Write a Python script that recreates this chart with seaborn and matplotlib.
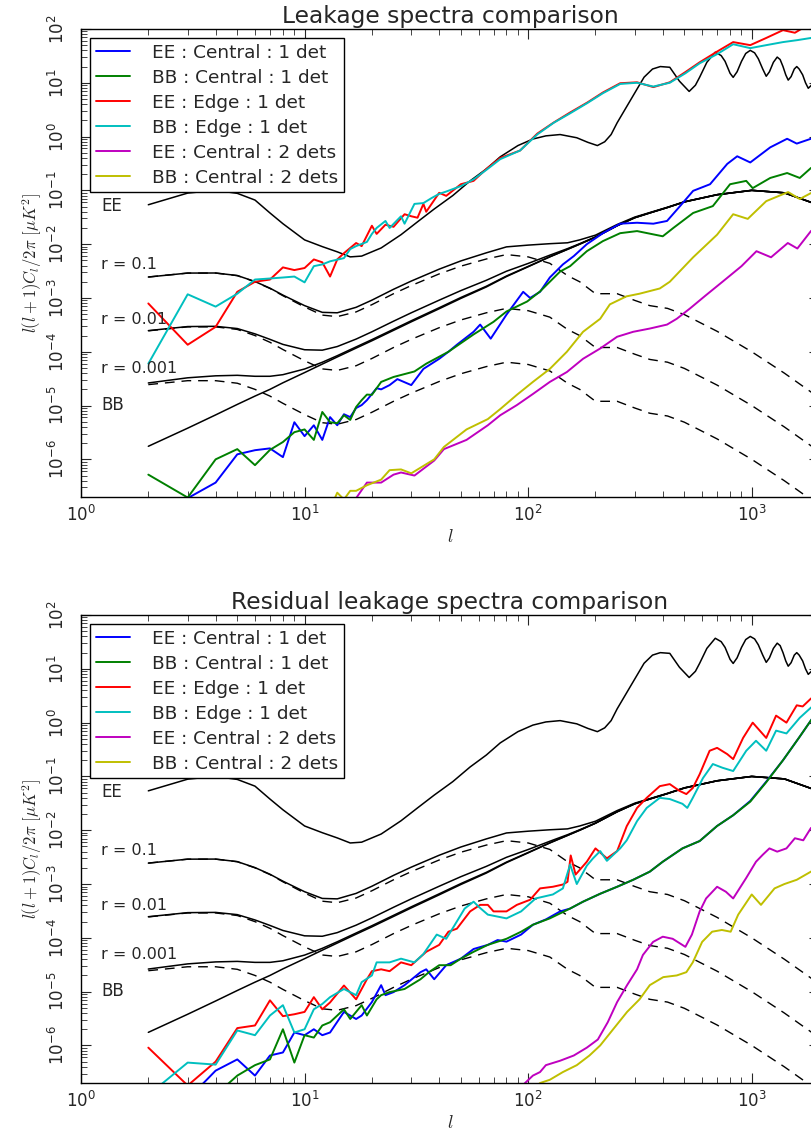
import matplotlib
matplotlib.use("Agg")
import matplotlib.pyplot as plt
import seaborn as sns

# ---------------- theory spectra (same in both panels) ----------------
ee_l = [2, 3, 4, 5, 6, 7, 8, 10, 12, 14, 16, 18, 22, 27, 32, 38, 46, 55, 65, 75,
        90, 105, 120, 139, 165, 185, 204, 220, 235, 250, 280, 300, 330, 360, 390, 430, 475, 525, 560, 585,
        630, 687, 730, 760, 800, 826, 860, 900, 940, 985, 1030, 1070, 1120, 1161, 1200, 1250, 1300, 1340, 1380, 1420,
        1456, 1500, 1550, 1590, 1630, 1690, 1740, 1790, 1850, 2000]
ee_cl = [0.054, 0.089, 0.10, 0.088, 0.066, 0.038, 0.024, 0.012, 0.009, 0.0072, 0.0058, 0.006, 0.0085, 0.015, 0.026, 0.045, 0.08, 0.15, 0.25, 0.42,
         0.68, 0.9, 1.03, 1.09, 0.95, 0.78, 0.68, 0.8, 1.09, 1.8, 4.0, 6.5, 12.7, 18, 20, 19.4, 10.7, 6.9, 9, 12.7,
         24, 37, 32, 25, 15, 12.6, 16, 25, 35, 40, 36, 28, 18, 13.2, 16, 24, 30, 27, 20, 14,
         11.2, 13, 18, 20, 18, 14, 10, 7.9, 9, 12]

bb_l = [2, 3, 4, 5, 6, 7, 8, 10, 12, 14, 17, 20, 25, 30, 40, 50, 65, 80, 100, 125,
        150, 170, 200, 250, 300, 350, 420, 500, 700, 1000, 1400, 2000]
lens_bb = [1.75e-6, 3.8e-6, 6.7e-6, 1.05e-5, 1.5e-5, 2.0e-5, 2.65e-5, 4.1e-5, 5.9e-5, 8.0e-5,
           1.17e-4, 1.6e-4, 2.5e-4, 3.6e-4, 6.3e-4, 9.8e-4, 1.6e-3, 2.5e-3, 3.8e-3, 5.8e-3,
           8.0e-3, 1.0e-2, 1.35e-2, 2.2e-2, 3.1e-2, 3.8e-2, 4.8e-2, 6.1e-2, 8.3e-2, 0.1, 0.09, 0.053]
tens_r01 = [2.45e-3, 2.9e-3, 2.9e-3, 2.6e-3, 2.0e-3, 1.5e-3, 1.1e-3, 6.8e-4, 4.8e-4, 4.5e-4,
            5.5e-4, 7.5e-4, 1.2e-3, 1.7e-3, 2.8e-3, 3.9e-3, 5.3e-3, 6.4e-3, 5.8e-3, 4.4e-3,
            2.6e-3, 2.0e-3, 1.2e-3, 1.2e-3, 9.0e-4, 7.2e-4, 6.4e-4, 4.9e-4, 2.4e-4, 1.0e-4, 4.0e-5, 1.4e-5]
tens_r001 = [2.45e-4, 2.9e-4, 2.9e-4, 2.6e-4, 2.0e-4, 1.5e-4, 1.1e-4, 6.8e-5, 4.8e-5, 4.5e-5,
             5.5e-5, 7.5e-5, 1.2e-4, 1.7e-4, 2.8e-4, 3.9e-4, 5.3e-4, 6.4e-4, 5.8e-4, 4.4e-4,
             2.6e-4, 2.0e-4, 1.2e-4, 1.2e-4, 9.0e-5, 7.2e-5, 6.4e-5, 4.9e-5, 2.4e-5, 1.0e-5, 4.0e-6, 1.4e-6]
tens_r0001 = [2.45e-5, 2.9e-5, 2.9e-5, 2.6e-5, 2.0e-5, 1.5e-5, 1.1e-5, 6.8e-6, 4.8e-6, 4.5e-6,
              5.5e-6, 7.5e-6, 1.2e-5, 1.7e-5, 2.8e-5, 3.9e-5, 5.3e-5, 6.4e-5, 5.8e-5, 4.4e-5,
              2.6e-5, 2.0e-5, 1.2e-5, 1.2e-5, 9.0e-6, 7.2e-6, 6.4e-6, 4.9e-6, 2.4e-6, 1.0e-6, 4.0e-7, 1.4e-7]
tot_r01 = [2.45e-3, 2.9e-3, 2.91e-3, 2.61e-3, 2.02e-3, 1.52e-3, 1.13e-3, 7.2e-4, 5.4e-4, 5.3e-4,
           6.7e-4, 9.1e-4, 1.45e-3, 2.06e-3, 3.43e-3, 4.88e-3, 6.9e-3, 8.9e-3, 9.6e-3, 1.02e-2,
           1.06e-2, 1.2e-2, 1.47e-2, 2.32e-2, 3.19e-2, 3.87e-2, 4.86e-2, 6.15e-2, 8.32e-2, 0.1, 0.09, 0.053]
tot_r001 = [2.47e-4, 2.94e-4, 2.97e-4, 2.7e-4, 2.15e-4, 1.7e-4, 1.37e-4, 1.09e-4, 1.07e-4, 1.25e-4,
            1.72e-4, 2.35e-4, 3.7e-4, 5.3e-4, 9.1e-4, 1.37e-3, 2.13e-3, 3.14e-3, 4.38e-3, 6.24e-3,
            8.26e-3, 1.02e-2, 1.36e-2, 2.21e-2, 3.11e-2, 3.81e-2, 4.81e-2, 6.1e-2, 8.3e-2, 0.1, 0.09, 0.053]
tot_r0001 = [2.63e-5, 3.28e-5, 3.57e-5, 3.65e-5, 3.5e-5, 3.5e-5, 3.75e-5, 4.78e-5, 6.38e-5, 8.45e-5,
             1.23e-4, 1.68e-4, 2.62e-4, 3.77e-4, 6.58e-4, 1.02e-3, 1.65e-3, 2.56e-3, 3.86e-3, 5.84e-3,
             8.03e-3, 1.0e-2, 1.35e-2, 2.2e-2, 3.1e-2, 3.8e-2, 4.8e-2, 6.1e-2, 8.3e-2, 0.1, 0.09, 0.053]

# ---------------- leakage spectra (top panel) ----------------
ee_cen1_top_l = [2, 3, 4, 5, 6, 7, 8, 9, 10, 11, 12, 13, 14, 15, 16, 17, 18, 19, 21, 22,
                 24, 26, 30, 34, 40, 44, 48, 57, 61, 68, 80, 95, 102, 113, 125, 143, 160, 183, 216, 258,
                 307, 363, 418, 478, 547, 651, 777, 861, 985, 1210, 1440, 1590, 1840, 2000]
ee_cen1_top = [1.5e-7, 1.9e-7, 3.7e-7, 1.24e-6, 1.48e-6, 1.6e-6, 1.1e-6, 4.9e-6, 2.7e-6, 4.3e-6,
               2.3e-6, 6.1e-6, 4.3e-6, 6.9e-6, 6.1e-6, 9.0e-6, 1.02e-5, 1.26e-5, 2.1e-5, 2.0e-5,
               2.4e-5, 3.1e-5, 2.4e-5, 4.8e-5, 7.4e-5, 1.0e-4, 1.35e-4, 2.35e-4, 3.2e-4, 1.75e-4,
               4.9e-4, 1.3e-3, 1.0e-3, 1.3e-3, 2.4e-3, 4.2e-3, 6.0e-3, 1.0e-2, 1.6e-2, 2.4e-2,
               2.5e-2, 2.4e-2, 2.7e-2, 5.1e-2, 9.8e-2, 0.13, 0.31, 0.43, 0.33, 0.63, 0.91, 0.74, 0.91, 1.0]
bb_cen1_top_l = [2, 3, 4, 5, 6, 7, 8, 9, 10, 11, 12, 13, 14, 15, 16, 17, 18, 19, 20, 22,
                 25, 31, 35, 44, 57, 70, 80, 99, 113, 139, 154, 183, 216, 258, 307, 400, 446, 547, 670, 800,
                 945, 1010, 1210, 1440, 1640, 1840, 2000]
bb_cen1_top = [5.2e-7, 1.95e-7, 1.0e-6, 1.55e-6, 7.8e-7, 1.5e-6, 2.1e-6, 3.2e-6, 3.6e-6, 2.3e-6,
               7.6e-6, 4.9e-6, 4.7e-6, 6.6e-6, 5.4e-6, 9.4e-6, 1.26e-5, 1.6e-5, 1.58e-5, 2.75e-5,
               3.4e-5, 4.3e-5, 6.0e-5, 1.0e-4, 2.1e-4, 3.6e-4, 5.6e-4, 8.6e-4, 1.32e-3, 3.1e-3,
               3.9e-3, 7.4e-3, 1.14e-2, 1.6e-2, 1.75e-2, 1.4e-2, 2.0e-2, 3.8e-2, 5.1e-2, 0.13,
               0.15, 0.11, 0.17, 0.21, 0.17, 0.26, 0.3]
ee_edge_top_l = [2, 3, 4, 5, 6, 7, 8, 9, 10, 11, 12, 13, 14, 15, 16, 17, 18, 20, 21, 23,
                 25, 28, 30, 32, 34, 35, 40, 43, 50, 57, 65, 75, 92, 110, 130, 154, 184, 216, 258, 307,
                 363, 430, 505, 585, 700, 826, 985, 1161, 1380, 1560, 1700, 1840, 2000]
ee_edge_top = [7.9e-4, 1.35e-4, 2.9e-4, 1.3e-3, 2.0e-3, 2.2e-3, 3.7e-3, 3.3e-3, 3.6e-3, 5.2e-3,
               4.6e-3, 2.5e-3, 5.2e-3, 6.8e-3, 8.5e-3, 1.05e-2, 9.2e-3, 2.2e-2, 1.55e-2, 2.3e-2,
               2.1e-2, 3.6e-2, 3.3e-2, 3.1e-2, 5.6e-2, 4.0e-2, 9.0e-2, 7.9e-2, 0.13, 0.15,
               0.25, 0.4, 0.55, 1.14, 1.82, 2.8, 4.3, 6.6, 9.8, 10.2,
               8.3, 10.2, 15.8, 24, 38, 57, 50, 68, 95, 85, 105, 110, 115]
bb_edge_top_l = [2, 3, 4, 5, 6, 7, 8, 9, 10, 11, 12, 13, 15, 16, 17, 19, 20, 21, 23, 24,
                 27, 28, 31, 34, 37, 40, 43, 50, 57, 65, 75, 92, 110, 130, 154, 184, 216, 258, 307, 363,
                 430, 505, 585, 700, 826, 985, 1161, 1380, 1600, 1840, 2000]
bb_edge_top = [6.0e-5, 1.17e-3, 6.9e-4, 1.2e-3, 2.2e-3, 2.3e-3, 2.4e-3, 2.5e-3, 1.95e-3, 3.9e-3,
               4.2e-3, 4.8e-3, 5.5e-3, 8.1e-3, 9.2e-3, 1.1e-2, 1.55e-2, 2.0e-2, 2.7e-2, 2.0e-2,
               3.3e-2, 2.4e-2, 5.6e-2, 5.8e-2, 7.2e-2, 8.6e-2, 9.5e-2, 0.12, 0.16, 0.24,
               0.38, 0.55, 1.1, 1.8, 2.7, 4.2, 6.4, 9.5, 10.0, 8.5,
               10, 15, 23, 34, 52, 44, 50, 57, 62, 68, 70]
ee_cen2_top_l = [15, 17, 19, 22, 25, 27, 31, 38, 42, 53, 66, 75, 89, 105, 125, 149, 176, 210, 250, 295,
                 350, 418, 462, 530, 620, 740, 900, 1050, 1220, 1450, 1600, 1840, 2000]
ee_cen2_top = [1.2e-7, 1.9e-7, 3.7e-7, 3.7e-7, 5.2e-7, 5.7e-7, 5.0e-7, 9.5e-7, 1.55e-6, 2.3e-6,
               4.3e-6, 6.6e-6, 1.02e-5, 1.64e-5, 2.75e-5, 4.2e-5, 7.4e-5, 1.15e-4, 1.9e-4, 2.35e-4,
               2.7e-4, 3.2e-4, 4.1e-4, 6.4e-4, 1.1e-3, 2.0e-3, 3.9e-3, 7.4e-3, 5.7e-3, 1.05e-2,
               8.3e-3, 1.75e-2, 2.2e-2]
bb_cen2_top_l = [13, 14, 15, 16, 17, 19, 22, 24, 27, 30, 38, 42, 53, 66, 75, 89, 105, 125, 149, 176,
                 210, 232, 275, 315, 388, 430, 547, 700, 826, 960, 1161, 1455, 1640, 1840, 2000]
bb_cen2_top = [1.2e-7, 2.4e-7, 1.8e-7, 2.6e-7, 2.6e-7, 3.3e-7, 4.2e-7, 6.3e-7, 6.5e-7, 5.5e-7,
               1.0e-6, 1.7e-6, 3.6e-6, 5.6e-6, 8.6e-6, 1.58e-5, 2.75e-5, 4.8e-5, 1.0e-4, 2.35e-4,
               4.1e-4, 7.6e-4, 1.07e-3, 1.2e-3, 1.5e-3, 2.0e-3, 5.7e-3, 1.5e-2, 3.6e-2, 2.95e-2,
               6.3e-2, 9.3e-2, 6.9e-2, 8.9e-2, 0.1]

# ---------------- residual leakage spectra (bottom panel) ----------------
ee_cen1_bot_l = [3, 4, 5, 6, 7, 8, 9, 10, 11, 12, 13, 15, 17, 18, 20, 22, 23, 25, 28, 33,
                 35, 38, 43, 50, 57, 66, 73, 80, 93, 105, 120, 139, 154, 176, 210, 250, 295, 350, 400, 490,
                 585, 700, 826, 985, 1161, 1380, 1640, 1840, 2000]
ee_cen1_bot = [1.0e-7, 3.4e-7, 5.5e-7, 2.75e-7, 6.5e-7, 7.4e-7, 1.74e-6, 1.55e-6, 2.0e-6, 1.55e-6,
               1.74e-6, 4.2e-6, 3.1e-6, 3.6e-6, 6.4e-6, 1.32e-5, 8.6e-6, 9.8e-6, 1.32e-5, 2.3e-5,
               2.6e-5, 1.7e-5, 3.1e-5, 4.1e-5, 6.2e-5, 7.4e-5, 9.1e-5, 8.5e-5, 1.15e-4, 1.75e-4,
               2.2e-4, 3.1e-4, 3.5e-4, 4.7e-4, 6.6e-4, 8.9e-4, 1.2e-3, 1.7e-3, 2.6e-3, 4.6e-3,
               6.3e-3, 1.2e-2, 1.9e-2, 3.5e-2, 8.0e-2, 0.2, 0.55, 1.1, 1.8]
bb_cen1_bot_l = [4, 5, 6, 7, 8, 9, 10, 11, 12, 13, 15, 16, 18, 19, 21, 22, 24, 28, 33, 36,
                 40, 45, 50, 57, 66, 80, 93, 105, 125, 154, 176, 210, 250, 295, 350, 400, 490, 585, 700, 826,
                 985, 1161, 1380, 1640, 1840, 2000]
bb_cen1_bot = [1.2e-7, 2.75e-7, 4.3e-7, 5.5e-7, 2.0e-6, 4.8e-7, 1.55e-6, 1.4e-6, 2.35e-6, 2.7e-6,
               4.7e-6, 3.1e-6, 5.6e-6, 3.6e-6, 7.2e-6, 8.6e-6, 9.8e-6, 1.12e-5, 1.7e-5, 2.3e-5,
               3.1e-5, 3.1e-5, 4.1e-5, 5.5e-5, 7.4e-5, 9.6e-5, 1.3e-4, 1.75e-4, 2.3e-4, 3.5e-4,
               4.7e-4, 6.6e-4, 8.9e-4, 1.2e-3, 1.7e-3, 2.6e-3, 4.6e-3, 6.3e-3, 1.2e-2, 1.9e-2,
               3.4e-2, 7.8e-2, 0.2, 0.55, 1.1, 1.8]
ee_edge_bot_l = [2, 3, 4, 5, 6, 7, 8, 9, 10, 11, 12, 13, 15, 17, 19, 20, 22, 24, 27, 30,
                 35, 40, 44, 48, 55, 61, 66, 70, 80, 89, 102, 113, 129, 143, 150, 155, 163, 183, 200, 225,
                 250, 276, 307, 339, 388, 430, 475, 510, 545, 585, 648, 700, 777, 826, 915, 1010, 1161, 1285, 1430, 1590,
                 1690, 1840, 2000]
ee_edge_bot = [9.1e-7, 1.8e-7, 5e-7, 2.1e-6, 2.35e-6, 6.9e-6, 3.5e-6, 3.8e-6, 4.2e-6, 7.9e-6,
               4.7e-6, 6.3e-6, 1.3e-5, 7.2e-6, 1.7e-5, 2.4e-5, 2.6e-5, 2.4e-5, 3.5e-5, 3.1e-5,
               5.5e-5, 7.4e-5, 1.3e-4, 1.48e-4, 3.1e-4, 4.1e-4, 4.1e-4, 3.1e-4, 3.1e-4, 4.1e-4,
               5.1e-4, 8.3e-4, 8.9e-4, 9.8e-4, 1.1e-3, 3.4e-3, 1.5e-3, 2.6e-3, 4.6e-3, 3.0e-3,
               4.1e-3, 1.19e-2, 2.6e-2, 4.0e-2, 6.6e-2, 7.2e-2, 5.4e-2, 4.7e-2, 6.1e-2, 0.11,
               0.3, 0.34, 0.26, 0.21, 0.52, 1.0, 0.52, 1.35, 1.0, 2.1,
               2.0, 2.8, 3.5]
bb_edge_bot_l = [2, 3, 4, 5, 6, 7, 8, 9, 10, 11, 12, 13, 15, 17, 18, 20, 21, 24, 27, 31,
                 34, 39, 43, 47, 52, 57, 60, 66, 80, 93, 108, 129, 143, 154, 165, 183, 195, 210, 225, 258,
                 276, 307, 339, 388, 430, 490, 515, 545, 605, 670, 740, 826, 945, 1045, 1161, 1285, 1430, 1640, 1840, 2000]
bb_edge_bot = [1.2e-7, 4.8e-7, 4.4e-7, 1.9e-6, 1.55e-6, 3.6e-6, 5.6e-6, 1.74e-6, 2.0e-6, 4.7e-6,
               5.9e-6, 7.9e-6, 1.12e-5, 8.6e-6, 1.5e-5, 2.0e-5, 3.5e-5, 3.5e-5, 4.1e-5, 3.5e-5,
               5.0e-5, 1.15e-4, 9.6e-5, 1.75e-4, 3.5e-4, 4.7e-4, 3.8e-4, 2.7e-4, 2.3e-4, 3.1e-4,
               5.4e-4, 6.4e-4, 8.3e-4, 2.3e-3, 1.0e-3, 2.2e-3, 3.0e-3, 4.1e-3, 2.7e-3, 4.6e-3,
               6.5e-3, 1.48e-2, 2.6e-2, 4.0e-2, 3.8e-2, 3.1e-2, 2.6e-2, 4.0e-2, 9.3e-2, 0.17,
               0.145, 0.126, 0.3, 0.46, 0.3, 0.71, 0.63, 1.23, 1.9, 2.4]
ee_cen2_bot_l = [90, 105, 113, 120, 139, 160, 183, 205, 227, 250, 277, 307, 326, 362, 400, 443, 505, 540, 585, 625,
                 700, 766, 826, 945, 1045, 1120, 1200, 1300, 1430, 1560, 1700, 1840, 2000]
ee_cen2_bot = [1.5e-7, 2.75e-7, 3.2e-7, 4.3e-7, 5.2e-7, 6.5e-7, 9.1e-7, 1.29e-6, 2.7e-6, 6.4e-6,
               1.32e-5, 2.6e-5, 4.8e-5, 8.4e-5, 1.05e-4, 9.6e-5, 6.8e-5, 1.15e-4, 3.1e-4, 5.4e-4,
               8.9e-4, 7.2e-4, 5.4e-4, 1.3e-3, 2.6e-3, 3.5e-3, 4.6e-3, 4.0e-3, 4.6e-3, 7.1e-3,
               6.5e-3, 1.1e-2, 1.3e-2]
bb_cen2_bot_l = [105, 113, 125, 143, 165, 188, 210, 240, 277, 315, 350, 402, 462, 510, 545, 600, 665, 735, 805, 870,
                 1000, 1100, 1265, 1400, 1590, 1840, 2000]
bb_cen2_bot = [1.5e-7, 2.0e-7, 2.3e-7, 3.2e-7, 4.3e-7, 6.5e-7, 1.0e-6, 2.0e-6, 4.2e-6, 7.2e-6,
               1.32e-5, 1.86e-5, 2.0e-5, 2.3e-5, 3.5e-5, 8.4e-5, 1.3e-4, 1.4e-4, 1.3e-4, 2.7e-4,
               6.4e-4, 4.1e-4, 8.3e-4, 1.0e-3, 1.2e-3, 1.7e-3, 2.0e-3]

labels = ["EE : Central : 1 det", "BB : Central : 1 det", "EE : Edge : 1 det",
          "BB : Edge : 1 det", "EE : Central : 2 dets", "BB : Central : 2 dets"]
colors = [(0, 0, 1), (0, 0.5, 0), (1, 0, 0), (0, 0.75, 0.75), (0.75, 0, 0.75), (0.75, 0.75, 0)]
ytick_exp = [-6, -5, -4, -3, -2, -1, 0, 1, 2]

top_series = [(ee_cen1_top_l, ee_cen1_top), (bb_cen1_top_l, bb_cen1_top),
              (ee_edge_top_l, ee_edge_top), (bb_edge_top_l, bb_edge_top),
              (ee_cen2_top_l, ee_cen2_top), (bb_cen2_top_l, bb_cen2_top)]
bot_series = [(ee_cen1_bot_l, ee_cen1_bot), (bb_cen1_bot_l, bb_cen1_bot),
              (ee_edge_bot_l, ee_edge_bot), (bb_edge_bot_l, bb_edge_bot),
              (ee_cen2_bot_l, ee_cen2_bot), (bb_cen2_bot_l, bb_cen2_bot)]

sns.set_style("ticks")
plt.rcParams['font.family'] = ['DejaVu Sans']
plt.rcParams['mathtext.fontset'] = 'cm'
plt.rcParams['axes.edgecolor'] = 'black'
plt.rcParams['axes.linewidth'] = 1.0


def panel(ax, series, title):
    ax.set_xscale('log')
    ax.set_yscale('log')
    sns.lineplot(x=ee_l, y=ee_cl, ax=ax, color='k', lw=1.1)
    for tot, ten in [(tot_r01, tens_r01), (tot_r001, tens_r001), (tot_r0001, tens_r0001)]:
        sns.lineplot(x=bb_l, y=tot, ax=ax, color='k', lw=1.1)
        sns.lineplot(x=bb_l, y=ten, ax=ax, color='k', lw=1.0, linestyle=(0, (7, 5)))
    sns.lineplot(x=bb_l, y=lens_bb, ax=ax, color='k', lw=1.1)
    for (l, c), lab, col in zip(series, labels, colors):
        sns.lineplot(x=l, y=c, ax=ax, color=col, lw=1.4, label=lab)

    ax.set_xlim(1, 2000)
    ax.set_ylim(2e-7, 100)
    ax.set_yticks([10.0 ** k for k in ytick_exp])
    ax.tick_params(which='both', direction='in', top=True, right=True, labelsize=12)
    ax.tick_params(which='major', length=7)
    ax.tick_params(which='minor', length=4)
    ax.tick_params(axis='x', pad=6)
    ax.tick_params(axis='y', labelleft=False)

    # vertical y tick labels, as in the original
    for k in ytick_exp:
        ax.text(-0.017, 10.0 ** k, r'$\mathdefault{10^{%d}}$' % k, transform=ax.get_yaxis_transform(),
                rotation=90, ha='right', va='center', fontsize=12)

    for txt, yv, fs in [("EE", 0.051, 12), ("r = 0.1", 4.2e-3, 11.5), ("r = 0.01", 4.0e-4, 11.5),
                        ("r = 0.001", 4.8e-5, 11.5), ("BB", 1.02e-5, 12)]:
        ax.text(1.23, yv, txt, fontsize=fs, va='center', ha='left')

    ax.set_title(title, fontsize=16.8, pad=4)
    ax.set_xlabel('$l$', fontsize=13)
    ax.xaxis.set_label_coords(0.5, -0.066)
    ax.set_ylabel(r'$l(l+1)C_l/2\pi\ [\mu K^2]$', fontsize=12)
    ax.yaxis.set_label_coords(-0.05, 0.5)

    leg = ax.legend(loc='upper left', fontsize=13.3, frameon=True, fancybox=False,
                    edgecolor='black', framealpha=1, handlelength=1.85, labelspacing=0.38,
                    borderaxespad=0.5, handletextpad=1.2, borderpad=0.3)
    leg.get_frame().set_linewidth(1.0)


fig = plt.figure(figsize=(8.11, 11.31), dpi=100)
ax1 = fig.add_axes([0.0999, 0.5606, 0.91, 0.4138])
ax2 = fig.add_axes([0.0999, 0.0424, 0.91, 0.4138])
panel(ax1, top_series, 'Leakage spectra comparison')
panel(ax2, bot_series, 'Residual leakage spectra comparison')

fig.savefig('out.png', dpi=100)
